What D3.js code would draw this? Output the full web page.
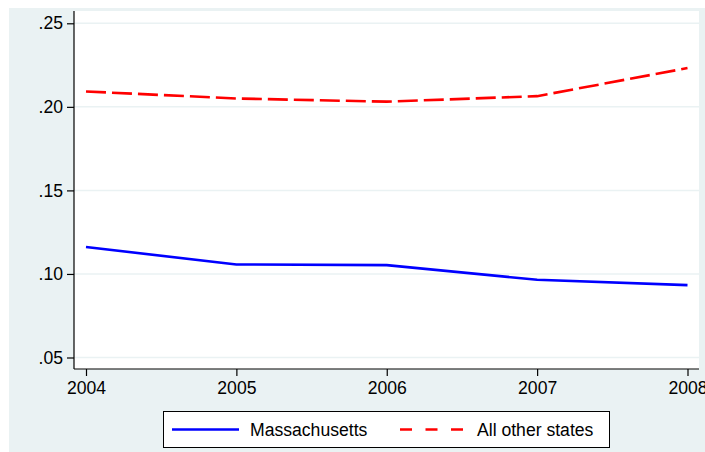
<!DOCTYPE html>
<html><head><meta charset="utf-8">
<script src="https://cdn.jsdelivr.net/npm/d3@7"></script>
<style>body{margin:0;background:#fff}svg{display:block}text{font-family:"Liberation Sans",Arial,sans-serif}</style>
</head><body>
<script>
const years = [2004, 2005, 2006, 2007, 2008];
const massachusetts = [0.1161, 0.1057, 0.1053, 0.0965, 0.0933];
const otherStates = [0.2092, 0.2050, 0.2031, 0.2064, 0.2232];
const yTicks = [0.05, 0.10, 0.15, 0.20, 0.25];
const seriesNames = ["Massachusetts", "All other states"];

const W = 705, H = 452;
const svg = d3.select("body").append("svg").attr("width", W).attr("height", H);
const bg = "#eaf2f3";
svg.append("rect").attr("x", 9).attr("y", 8).attr("width", W - 9).attr("height", H - 8).attr("fill", bg);

const plot = {l: 74, r: 699, t: 11, b: 369};
svg.append("rect").attr("x", plot.l).attr("y", plot.t).attr("width", plot.r - plot.l).attr("height", plot.b - plot.t).attr("fill", "#fff");

const x = d3.scaleLinear().domain([2004, 2008]).range([86, 687.5]);
const y = d3.scaleLinear().domain([0.05, 0.25]).range([357.5, 23.3]);

// gridlines
svg.append("g").selectAll("line").data(yTicks).join("line")
  .attr("x1", plot.l).attr("x2", plot.r)
  .attr("y1", d => y(d)).attr("y2", d => y(d))
  .attr("stroke", bg).attr("stroke-width", 1.5);

const fmt = d => d3.format(".2f")(d).replace(/^0/, "");
const yAxis = svg.append("g").attr("transform", `translate(${plot.l},0)`)
  .call(d3.axisLeft(y).tickValues(yTicks).tickFormat(fmt).tickSize(7).tickPadding(4));
yAxis.select(".domain").attr("d", `M0,${plot.t}V${plot.b}`);
const xAxis = svg.append("g").attr("transform", `translate(0,${plot.b})`)
  .call(d3.axisBottom(x).tickValues(years).tickFormat(d3.format("d")).tickSize(7).tickPadding(6));
xAxis.select(".domain").attr("d", `M${plot.l},0H${plot.r}`);
[yAxis, xAxis].forEach(a => {
  a.selectAll("path,line").attr("stroke", "#000").attr("stroke-width", 1.2);
  a.selectAll("text").attr("font-size", 17.6).attr("fill", "#000").attr("font-family", '"Liberation Sans",Arial,sans-serif');
});

const line = d3.line().x((d, i) => x(years[i])).y(d => y(d));
svg.append("path").datum(massachusetts).attr("d", line).attr("fill", "none")
  .attr("stroke", "#0000ff").attr("stroke-width", 2.6);
svg.append("path").datum(otherStates).attr("d", line).attr("fill", "none")
  .attr("stroke", "#ff0000").attr("stroke-width", 2.6).attr("stroke-dasharray", "20,6");

// legend
const lg = svg.append("g");
lg.append("rect").attr("x", 163.5).attr("y", 411.5).attr("width", 446).attr("height", 36)
  .attr("fill", "#fff").attr("stroke", "#000").attr("stroke-width", 1);
const items = [
  {name: seriesNames[0], color: "#0000ff", dash: null, x0: 172, tx: 250},
  {name: seriesNames[1], color: "#ff0000", dash: "12,13.5", x0: 400, tx: 477}
];
items.forEach(it => {
  lg.append("line").attr("x1", it.x0).attr("x2", it.x0 + 67).attr("y1", 429.5).attr("y2", 429.5)
    .attr("stroke", it.color).attr("stroke-width", 2.6).attr("stroke-dasharray", it.dash);
  lg.append("text").attr("x", it.tx).attr("y", 436).attr("font-size", 17.6).text(it.name);
});
</script>
</body></html>
